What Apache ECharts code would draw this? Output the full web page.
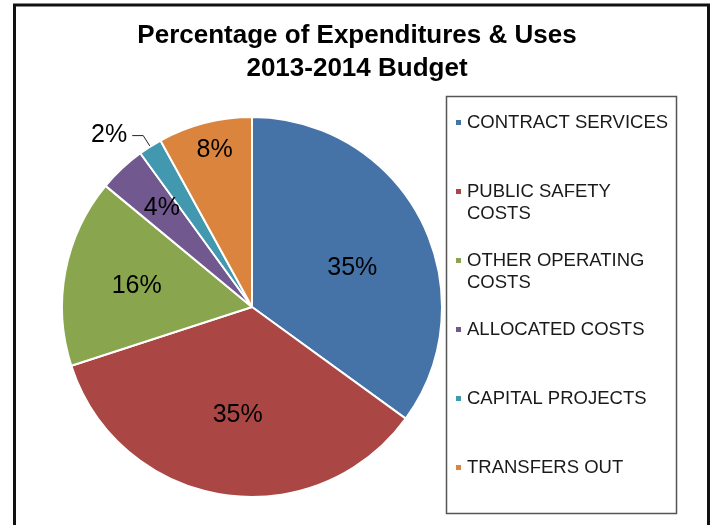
<!DOCTYPE html>
<html>
<head>
<meta charset="utf-8">
<title>Percentage of Expenditures & Uses 2013-2014 Budget</title>
<script src="https://cdn.jsdelivr.net/npm/echarts@6/dist/echarts.min.js"></script>
<style>
  html, body { margin: 0; padding: 0; background: #fff; }
  #chart { width: 714px; height: 525px; }
</style>
</head>
<body>
<div id="chart"></div>
<script>
// Budget shares (percent of total), in legend order
const categories = [
  'CONTRACT SERVICES',
  'PUBLIC SAFETY COSTS',
  'OTHER OPERATING COSTS',
  'ALLOCATED COSTS',
  'CAPITAL PROJECTS',
  'TRANSFERS OUT'
];
const shares = [35, 35, 16, 4, 2, 8];

// Legend lines as they wrap inside the legend box
const legendLines = {
  'CONTRACT SERVICES': ['CONTRACT SERVICES'],
  'PUBLIC SAFETY COSTS': ['PUBLIC SAFETY', 'COSTS'],
  'OTHER OPERATING COSTS': ['OTHER OPERATING', 'COSTS'],
  'ALLOCATED COSTS': ['ALLOCATED COSTS'],
  'CAPITAL PROJECTS': ['CAPITAL PROJECTS'],
  'TRANSFERS OUT': ['TRANSFERS OUT']
};

const colors = ['#4572A7', '#AA4643', '#89A54E', '#71588F', '#4198AF', '#DB843D'];
// Nudges for the inside percentage labels, from the slice midpoint
const labelNudge = [[13, 6], [1, 11], [-19, -3], [-23, -27], [0, 0], [-13, -62]];
const FONT = '"Liberation Sans", Arial, Helvetica, sans-serif';

const pieData = categories.map((name, i) => {
  const item = { name: name, value: shares[i] };
  if (i === 4) {
    item.label = { position: 'outside', distanceToLabelLine: 5 };
    item.labelLine = {
      show: true, length: 13, length2: 11, smooth: false,
      lineStyle: { color: '#222', width: 1 }
    };
  } else {
    item.label = { position: 'inside', offset: labelNudge[i] };
    item.labelLine = { show: false };
  }
  return item;
});

// Three-line block per entry so the swatch sits beside the first text line
function legendBlock(name) {
  const lines = legendLines[name];
  return ' \n' + lines[0] + '\n' + (lines[1] || ' ');
}

const chart = echarts.init(document.getElementById('chart'), null, { renderer: 'canvas' });
chart.setOption({
  animation: false,
  backgroundColor: '#fff',
  color: colors,
  title: {
    text: 'Percentage of Expenditures & Uses\n2013-2014 Budget',
    left: 'center',
    top: 19,
    padding: 0,
    textStyle: {
      fontFamily: FONT, fontSize: 26, fontWeight: 'bold',
      color: '#000', lineHeight: 33
    }
  },
  legend: {
    orient: 'vertical',
    left: 454,
    top: 89.5,
    padding: 0,
    itemGap: 3,
    itemWidth: 7,
    itemHeight: 7,
    icon: 'rect',
    selectedMode: false,
    data: categories,
    formatter: legendBlock,
    textStyle: {
      fontFamily: FONT, fontSize: 18.5, color: '#1a1a1a', lineHeight: 22
    }
  },
  graphic: [
    {
      type: 'rect', silent: true, z: -1,
      shape: { x: 14.5, y: 5, width: 694, height: 540 },
      style: { fill: 'none', stroke: '#111', lineWidth: 3 }
    },
    {
      type: 'rect', silent: true, z: -1,
      shape: { x: 446.5, y: 96.5, width: 230, height: 417 },
      style: { fill: 'none', stroke: '#555', lineWidth: 1.5 }
    }
  ],
  series: [{
    type: 'pie',
    center: [252, 307],
    radius: 190,
    startAngle: 90,
    clockwise: true,
    avoidLabelOverlap: false,
    itemStyle: { borderColor: '#fff', borderWidth: 2 },
    label: {
      formatter: '{c}%',
      fontFamily: FONT, fontSize: 25, color: '#000'
    },
    emphasis: { disabled: true },
    data: pieData
  }]
});
</script>
</body>
</html>
